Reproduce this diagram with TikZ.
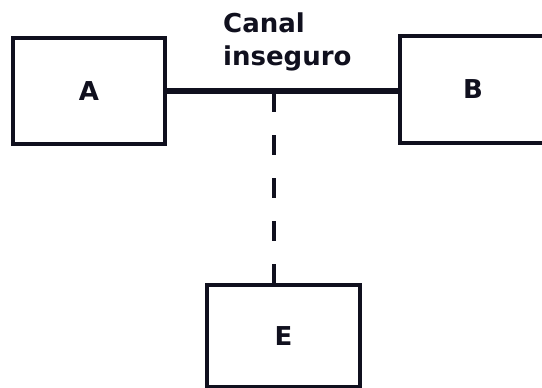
\documentclass[tikz,border=0pt]{standalone}
\usepackage{fontspec}
\setmainfont{DejaVu Sans}
\usetikzlibrary{calc,positioning}

\begin{document}
\begin{tikzpicture}[x=1pt,y=-1pt]
  % Colors
  \definecolor{ink}{HTML}{10101E}

  % Styles
  \tikzstyle{party}=[draw=ink,line width=3.5pt,inner sep=0pt,
    font=\fontsize{26}{27}\selectfont\bfseries,text=ink]
  \tikzstyle{channel}=[draw=ink,line width=5.5pt]
  \tikzstyle{eavesdrop}=[draw=ink,line width=3.5pt,dash pattern=on 20pt off 23pt]

  % Frame
  \useasboundingbox (0,0) rectangle (542,388);
  \clip (0,0) rectangle (542,388);

  % The graphic
  \node[party,minimum width=152pt,minimum height=106pt] (A) at (89,91) {A};
  \node[party,minimum width=146pt,minimum height=107pt] (B) at (473,89.5) {B};
  \node[party,minimum width=153pt,minimum height=102pt] (E) at (283.5,336) {E};

  \node[anchor=base west,align=left,text=ink,inner sep=0pt,
    font=\fontsize{26}{33}\selectfont\bfseries] (label) at (223,66) {Canal\\inseguro};

  % Lines
  \draw[channel] (A.east) -- (A.east -| B.west);
  \coordinate (tap) at (274,92);
  \draw[eavesdrop] (tap) -- (tap |- E.north);
\end{tikzpicture}
\end{document}
